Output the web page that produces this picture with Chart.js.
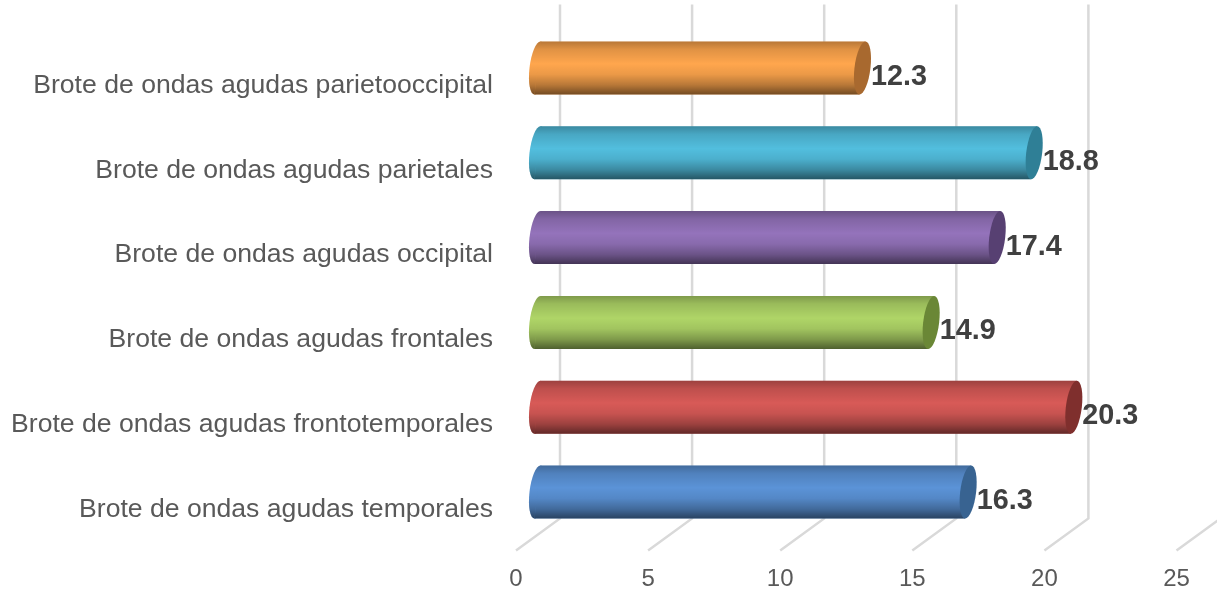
<!DOCTYPE html>
<html>
<head>
<meta charset="utf-8">
<style>
  html, body { margin: 0; padding: 0; background: #fff; }
  canvas { display: block; }
</style>
<script src="https://cdn.jsdelivr.net/npm/chart.js@4"></script>
</head>
<body>
<canvas id="chart" width="1217" height="592"></canvas>
<script>
const categories = [
  "Brote de ondas agudas parietooccipital",
  "Brote de ondas agudas parietales",
  "Brote de ondas agudas occipital",
  "Brote de ondas agudas frontales",
  "Brote de ondas agudas frontotemporales",
  "Brote de ondas agudas temporales"
];
const values = [12.3, 18.8, 17.4, 14.9, 20.3, 16.3];
const barColors = ["#FFA64D", "#52BEDE", "#9473BB", "#AFD567", "#D85A57", "#5B93D7"];
const capColors = ["#A8692F", "#2F7F96", "#574072", "#6A8736", "#7F2F2D", "#386391"];

// 3D look: the axis sits on the front plane, walls are pushed back by this much
const depthX = 44;
const depthY = -32;
const capRadius = 8;
const shear = 3;

function capPath(ctx, cx, cy, ry) {
  ctx.save();
  ctx.translate(cx, cy);
  ctx.transform(1, 0, -shear / ry, 1, 0, 0);
  ctx.beginPath();
  ctx.ellipse(0, 0, capRadius, ry, 0, 0, Math.PI * 2);
  ctx.restore();
}

function fillShaded(ctx, color, top, bottom) {
  ctx.fillStyle = color;
  ctx.fill();
  const g = ctx.createLinearGradient(0, top, 0, bottom);
  g.addColorStop(0, "rgba(0,0,0,0.28)");
  g.addColorStop(0.15, "rgba(0,0,0,0.12)");
  g.addColorStop(0.42, "rgba(0,0,0,0)");
  g.addColorStop(0.62, "rgba(0,0,0,0.08)");
  g.addColorStop(0.82, "rgba(0,0,0,0.28)");
  g.addColorStop(1, "rgba(0,0,0,0.55)");
  ctx.fillStyle = g;
  ctx.fill();
}

const walls = {
  id: "walls",
  beforeDatasetsDraw(chart) {
    const { ctx, scales: { x }, chartArea } = chart;
    ctx.save();
    ctx.strokeStyle = "#D9D9D9";
    ctx.lineWidth = 2.5;
    x.ticks.forEach((t) => {
      const px = x.getPixelForValue(t.value);
      ctx.beginPath();
      ctx.moveTo(px, chartArea.bottom);
      ctx.lineTo(px + depthX, chartArea.bottom + depthY);
      ctx.lineTo(px + depthX, chartArea.top + depthY - 5);
      ctx.stroke();
    });
    ctx.restore();
  }
};

const cylinders = {
  id: "cylinders",
  afterDatasetsDraw(chart) {
    const { ctx } = chart;
    chart.getDatasetMeta(0).data.forEach((bar, i) => {
      const ry = bar.height / 2;
      const cy = bar.y + depthY / 2;
      const top = cy - ry;
      const bottom = cy + ry;
      const left = bar.base + depthX / 2 - 0.5;
      const right = bar.x + depthX / 2 - 0.5;
      ctx.save();
      capPath(ctx, left, cy, ry);
      fillShaded(ctx, barColors[i], top, bottom);
      ctx.beginPath();
      ctx.moveTo(left + shear, top);
      ctx.lineTo(right + shear, top);
      ctx.lineTo(right - shear, bottom);
      ctx.lineTo(left - shear, bottom);
      ctx.closePath();
      fillShaded(ctx, barColors[i], top, bottom);
      capPath(ctx, right, cy, ry);
      ctx.fillStyle = capColors[i];
      ctx.fill();
      // value label
      ctx.fillStyle = "#404040";
      ctx.font = "bold 28.8px 'Liberation Sans'";
      ctx.textAlign = "left";
      ctx.textBaseline = "middle";
      ctx.fillText(values[i].toFixed(1), bar.x + 30, bar.y - 7);
      ctx.restore();
    });
  }
};

new Chart(document.getElementById("chart"), {
  type: "bar",
  data: {
    labels: categories,
    datasets: [{
      data: values,
      backgroundColor: "rgba(0,0,0,0)",
      barThickness: 53
    }]
  },
  options: {
    indexAxis: "y",
    responsive: false,
    animation: false,
    events: [],
    layout: { padding: { top: 41.6, right: 40.5, left: 0, bottom: 0 } },
    plugins: { legend: { display: false }, tooltip: { enabled: false } },
    scales: {
      x: {
        min: 0,
        max: 25,
        grid: { display: false },
        border: { display: false },
        ticks: {
          stepSize: 5,
          maxRotation: 0,
          color: "#595959",
          padding: 7,
          font: { family: "Liberation Sans", size: 24 }
        },
        afterFit(scale) { scale.height = 41.6; }
      },
      y: {
        grid: { display: false },
        border: { display: false },
        ticks: {
          color: "#595959",
          padding: 15,
          labelOffset: 1.5,
          font: { family: "Liberation Sans", size: 26.6 }
        },
        afterFit(scale) { scale.width = 516; }
      }
    }
  },
  plugins: [walls, cylinders]
});
</script>
</body>
</html>
